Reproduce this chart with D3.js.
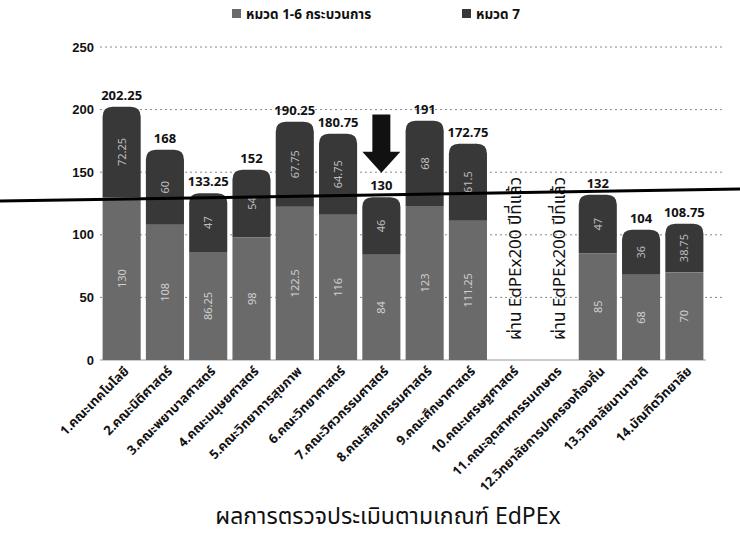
<!DOCTYPE html>
<html>
<head>
<meta charset="utf-8">
<script src="https://cdn.jsdelivr.net/npm/d3@7"></script>
<style>
  html, body { margin: 0; padding: 0; background: #fff; }
  svg { display: block; font-family: "Noto Sans Thai", "Loma", "Garuda", "Norasi", "Noto Sans", "DejaVu Sans", sans-serif; }
</style>
</head>
<body>
<svg id="chart" width="740" height="535"></svg>
<script>
const categories = [
  "1.คณะเทคโนโลยี", "2.คณะนิติศาสตร์", "3.คณะพยาบาลศาสตร์", "4.คณะมนุษยศาสตร์",
  "5.คณะวิทยาการสุขภาพ", "6.คณะวิทยาศาสตร์", "7.คณะวิศวกรรมศาสตร์", "8.คณะศิลปกรรมศาสตร์",
  "9.คณะศึกษาศาสตร์", "10.คณะเศรษฐศาสตร์", "11.คณะอุตสาหกรรมเกษตร", "12.วิทยาลัยการปกครองท้องถิ่น",
  "13.วิทยาลัยนานาชาติ", "14.บัณฑิตวิทยาลัย"
];
const seriesNames = ["หมวด 1-6 กระบวนการ", "หมวด 7"];
const part16 = [130, 108, 86.25, 98, 122.5, 116, 84, 123, 111.25, null, null, 85, 68, 70];
const part7  = [72.25, 60, 47, 54, 67.75, 64.75, 46, 68, 61.5, null, null, 47, 36, 38.75];
const totals = ["202.25", "168", "133.25", "152", "190.25", "180.75", "130", "191", "172.75", null, null, "132", "104", "108.75"];
const totalValues = [202.25, 168, 133.25, 152, 190.25, 180.75, 130, 191, 172.75, null, null, 132, 104, 108.75];
const passedNote = [null, null, null, null, null, null, null, null, null, "ผ่าน EdPEx200 ปีที่แล้ว", "ผ่าน EdPEx200 ปีที่แล้ว", null, null, null];
const yTicks = [0, 50, 100, 150, 200, 250];
const markLine = [127, 136.5];   // hand-drawn threshold line (value at left edge, value at right edge)
const highlightIndex = 6;        // arrow points at category 7
const arrowRange = [196, 149.5]; // arrow from / to (axis values)
const xTitle = "ผลการตรวจประเมินตามเกณฑ์ EdPEx";

const W = 740, H = 535;
const svg = d3.select("#chart");

const y = d3.scaleLinear().domain([0, 250]).range([360, 47]);
const x = d3.scaleBand().domain(categories).range([100, 706]).paddingInner(0.12).paddingOuter(0.06);
const xLine = d3.scaleLinear().domain([0, 1]).range([0, W]);

const colBottom = "#6a6a6a";
const colTop = "#383838";

// legend
const legend = svg.append("g").attr("font-size", 13.5).attr("font-weight", "bold");
const legX = [232, 462];
seriesNames.forEach((s, i) => {
  legend.append("rect").attr("x", legX[i]).attr("y", 9).attr("width", 9).attr("height", 9)
    .attr("fill", i === 0 ? colBottom : colTop);
  legend.append("text").attr("x", legX[i] + 14).attr("y", 19).attr("fill", "#111").text(s);
});

// gridlines
svg.append("g").selectAll("line").data(yTicks.filter(d => d > 0)).join("line")
  .attr("x1", 100).attr("x2", 722)
  .attr("y1", d => y(d)).attr("y2", d => y(d))
  .attr("stroke", "#888").attr("stroke-width", 1).attr("stroke-dasharray", "2,3");

// baseline
svg.append("line").attr("x1", 100).attr("x2", 706).attr("y1", y(0)).attr("y2", y(0))
  .attr("stroke", "#999").attr("stroke-width", 1);

// y axis labels
const yAxis = d3.axisLeft(y).tickValues(yTicks).tickSize(0).tickPadding(0);
const yg = svg.append("g").attr("transform", "translate(94,0)").call(yAxis);
yg.select(".domain").remove();
yg.selectAll("text").attr("font-size", 13).attr("font-weight", "bold").attr("fill", "#111")
  .style("font-family", "inherit");

// bars
const bw = x.bandwidth();
const r = 10;
function topRoundedPath(x0, y0, w, h, rr) {
  rr = Math.min(rr, h, w / 2);
  return `M${x0},${y0 + h}V${y0 + rr}Q${x0},${y0} ${x0 + rr},${y0}H${x0 + w - rr}Q${x0 + w},${y0} ${x0 + w},${y0 + rr}V${y0 + h}Z`;
}
const bars = svg.append("g");
categories.forEach((c, i) => {
  if (part16[i] == null) return;
  const x0 = x(c);
  bars.append("rect").attr("x", x0).attr("y", y(part16[i])).attr("width", bw)
    .attr("height", y(0) - y(part16[i])).attr("fill", colBottom);
  const yTop = y(part16[i] + part7[i]);
  bars.append("path").attr("d", topRoundedPath(x0, yTop, bw, y(part16[i]) - yTop, r)).attr("fill", colTop);
  bars.append("text").attr("transform", `translate(${x0 + bw / 2 + 4},${y(part16[i] / 2)}) rotate(-90)`)
    .attr("text-anchor", "middle").attr("font-size", 11).attr("fill", "#cfcfcf").text(part16[i]);
  bars.append("text").attr("transform", `translate(${x0 + bw / 2 + 4},${y(part16[i] + part7[i] / 2)}) rotate(-90)`)
    .attr("text-anchor", "middle").attr("font-size", 11).attr("fill", "#bdbdbd").text(part7[i]);
});

// total labels
const labels = svg.append("g").attr("font-size", 13).attr("font-weight", "bold").attr("fill", "#111");
categories.forEach((c, i) => {
  if (totals[i] == null) return;
  const cx = x(c) + bw / 2;
  const ty = y(totalValues[i]) - 7;
  if (i === highlightIndex) {
    labels.append("rect").attr("x", cx - 18).attr("y", ty - 14).attr("width", 36).attr("height", 17).attr("fill", "#fff");
  }
  labels.append("text").attr("x", cx).attr("y", ty).attr("text-anchor", "middle").text(totals[i]);
});

// notes for categories without bars
categories.forEach((c, i) => {
  if (!passedNote[i]) return;
  const cx = x(c) + bw / 2;
  svg.append("text").attr("transform", `translate(${cx + 10},${y(0) - 20}) rotate(-90)`)
    .attr("font-size", 17).attr("fill", "#111").text(passedNote[i]);
});

// threshold line
svg.append("line").attr("x1", xLine(0)).attr("x2", xLine(1))
  .attr("y1", y(markLine[0])).attr("y2", y(markLine[1]))
  .attr("stroke", "#000").attr("stroke-width", 3);

// arrow
const ax = x(categories[highlightIndex]) + bw / 2;
const aTop = y(arrowRange[0]), aBot = y(arrowRange[1]);
svg.append("path")
  .attr("d", `M${ax - 9},${aTop}H${ax + 9}V${aBot - 21}H${ax + 19}L${ax},${aBot}L${ax - 19},${aBot - 21}H${ax - 9}Z`)
  .attr("fill", "#111");

// x labels
const xl = svg.append("g").attr("font-size", 13).attr("font-weight", "bold").attr("fill", "#111");
categories.forEach((c) => {
  const cx = x(c) + bw / 2 + 8;
  xl.append("text").attr("transform", `translate(${cx},${y(0) + 12}) rotate(-45)`)
    .attr("text-anchor", "end").text(c);
});

// x title
svg.append("text").attr("x", 388).attr("y", 524).attr("text-anchor", "middle")
  .attr("font-size", 23).attr("fill", "#111").text(xTitle);
</script>
</body>
</html>
